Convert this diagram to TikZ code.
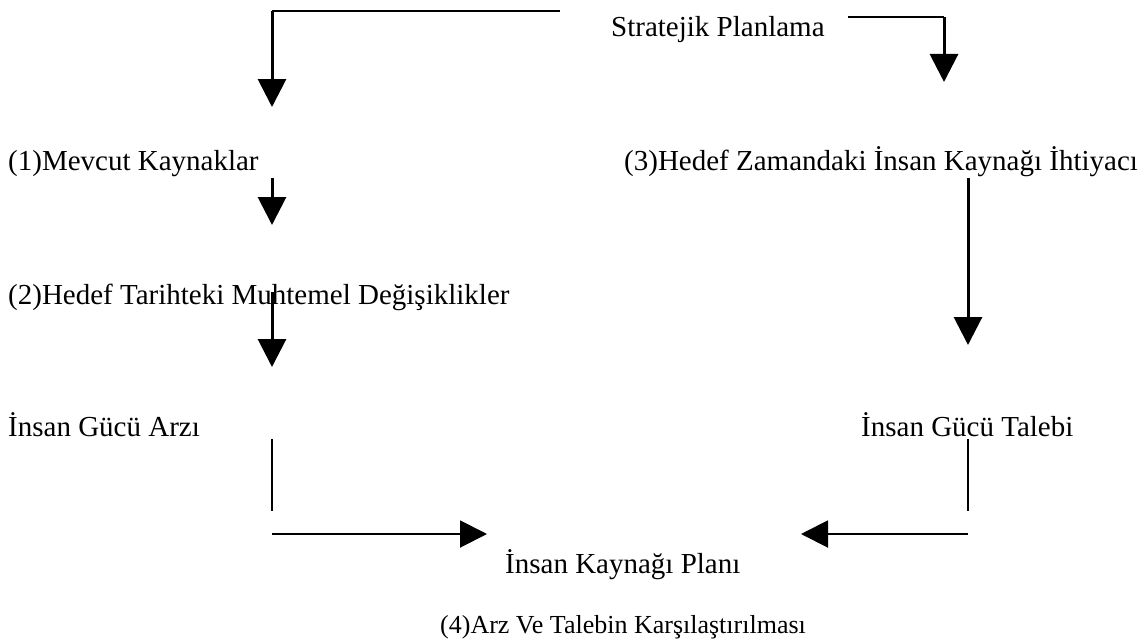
\documentclass[tikz,border=0pt]{standalone}
\usepackage{fontspec}
\setmainfont{Liberation Serif}
\usetikzlibrary{arrows.meta}
\begin{document}
\begin{tikzpicture}[x=1pt,y=-1pt,
  lbl/.style={anchor=base west,inner sep=0pt,font=\fontsize{29}{34}\selectfont},
  lblsmall/.style={anchor=base west,inner sep=0pt,font=\fontsize{26}{31}\selectfont},
  thinline/.style={line width=1.5pt},
  heavyarrow/.style={line width=3pt,-{Triangle[width=28pt,length=28pt]}},
  flatline/.style={line width=2pt},
  flatarrow/.style={line width=2pt,-{Triangle[width=27pt,length=27pt]}}]
\useasboundingbox (0,0) rectangle (1145,642);

% labels
\node[lbl] (strat)  at (611,37)  {Stratejik Planlama};
\node[lbl] (mevcut) at (8,170)   {(1)Mevcut Kaynaklar};
\node[lbl] (ihtiyac) at (624,170) {(3)Hedef Zamandaki İnsan Kaynağı İhtiyacı};
\node[lbl] (degis)  at (8,304)   {(2)Hedef Tarihteki Muhtemel Değişiklikler};
\node[lbl] (arz)    at (8,436)   {İnsan Gücü Arzı};
\node[lbl] (talep)  at (861,436) {İnsan Gücü Talebi};
\node[lbl] (plan)   at (505,573) {İnsan Kaynağı Planı};
\node[lblsmall] (karsi) at (440,633) {(4)Arz Ve Talebin Karşılaştırılması};

% connector end points
\coordinate (tlA) at (560,11);
\coordinate (tlB) at (272,11);
\coordinate (tlC) at (272,107);
\coordinate (trA) at (848,17);
\coordinate (trB) at (944,17);
\coordinate (trC) at (944,82);
\coordinate (m1) at (272,178);
\coordinate (m2) at (272,225);
\coordinate (d1) at (272,292);
\coordinate (d2) at (272,367);
\coordinate (h1) at (968,178);
\coordinate (h2) at (968,345);
\coordinate (la) at (272,439);
\coordinate (lb) at (272,511);
\coordinate (lc) at (272,534);
\coordinate (ld) at (487,534);
\coordinate (ra) at (968,439);
\coordinate (rb) at (968,511);
\coordinate (rc) at (968,534);
\coordinate (rd) at (801,534);

% strategic planning branches
\draw[thinline] (tlA) -- (tlB);
\draw[heavyarrow] (tlB) -- (tlC);
\draw[thinline] (trA) -- (trB);
\draw[heavyarrow] (trB) -- (trC);

% supply side
\draw[heavyarrow] (m1) -- (m2);
\draw[heavyarrow] (d1) -- (d2);
\draw[flatline] (la) -- (lb);
\draw[flatarrow] (lc) -- (ld);

% demand side
\draw[heavyarrow] (h1) -- (h2);
\draw[flatline] (ra) -- (rb);
\draw[flatarrow] (rc) -- (rd);
\end{tikzpicture}
\end{document}
